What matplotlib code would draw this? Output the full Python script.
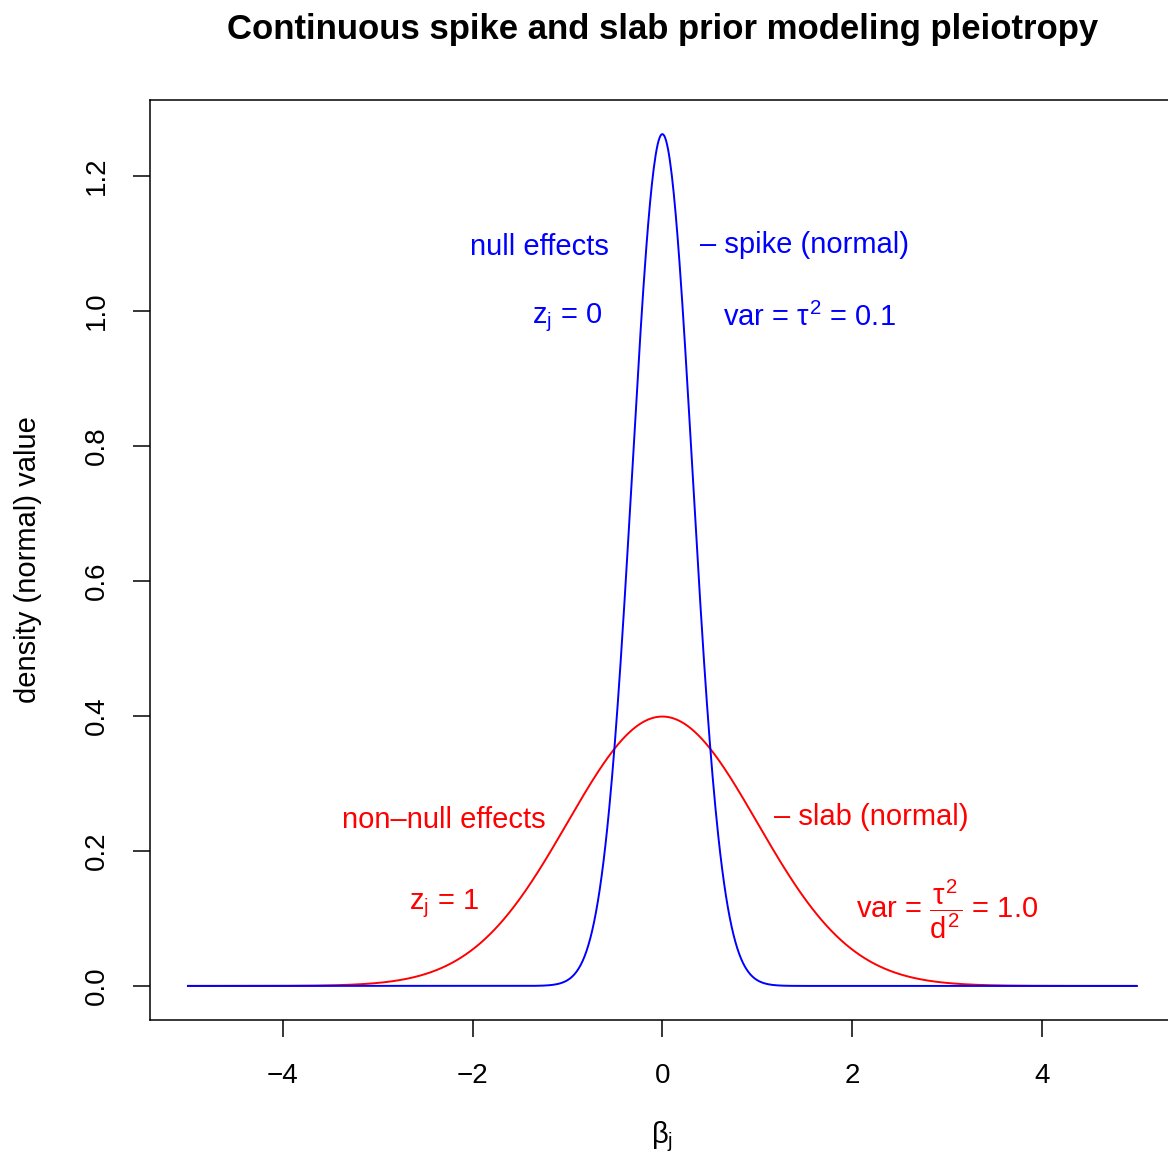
import numpy as np
import matplotlib
matplotlib.use("Agg")
import matplotlib.pyplot as plt

plt.rcParams['font.family'] = ['Liberation Sans', 'DejaVu Sans']
plt.rcParams['mathtext.fontset'] = 'custom'
plt.rcParams['mathtext.rm'] = 'Liberation Sans'
plt.rcParams['mathtext.it'] = 'Liberation Sans'
plt.rcParams['mathtext.sf'] = 'Liberation Sans'

# Distribution parameters
spike_var = 0.1
slab_var = 1.0
x_range = [-5, 5]
xticks = [-4, -2, 0, 2, 4]
yticks = [0.0, 0.2, 0.4, 0.6, 0.8, 1.0, 1.2]

x = np.linspace(x_range[0], x_range[1], 1001)


def dnorm(v, var):
    return np.exp(-v ** 2 / (2 * var)) / np.sqrt(2 * np.pi * var)


spike = dnorm(x, spike_var)
slab = dnorm(x, slab_var)

W, H = 1168, 1158
fig = plt.figure(figsize=(W / 100, H / 100), dpi=100)
ax = fig.add_axes([150 / W, 138 / H, (1174.7 - 150) / W, 920 / H])

ax.plot(x, slab, color='#FF0000', lw=1.4)
ax.plot(x, spike, color='#0000FF', lw=1.4)

ymax = spike.max()
ax.set_xlim(-5.4, 5.4)
ax.set_ylim(-0.04 * ymax, ymax * 1.04)

ax.set_xticks(xticks)
ax.set_xticklabels(['\u2212' + str(abs(t)) if t < 0 else str(t) for t in xticks])
ax.set_yticks(yticks)
ax.set_yticklabels([f'{t:.1f}' for t in yticks], rotation=90, va='center')
ax.tick_params(axis='both', length=12, width=1.1, labelsize=20, direction='out')
ax.tick_params(axis='x', pad=19)
ax.tick_params(axis='y', pad=17)
for s in ax.spines.values():
    s.set_linewidth(1.1)

ax.set_xlabel(r'$\beta_{\rm j}$', fontsize=21, labelpad=22)
ax.set_ylabel('density (normal) value', fontsize=21, labelpad=30)
fig.suptitle('Continuous spike and slab prior modeling pleiotropy',
             fontsize=25, fontweight='bold', x=663 / W, y=1 - 30 / H, va='center')

fs = 21
blue = '#0000FF'
red = '#FF0000'
ax.text(-1.3, 1.095, 'null effects', color=blue, fontsize=fs, ha='center', va='center')
ax.text(-1.0, 0.99, r'z$_{\rm j}$ = 0', color=blue, fontsize=fs, ha='center', va='center')
ax.text(1.5, 1.098, '\u2013 spike (normal)', color=blue, fontsize=fs, ha='center', va='center')
ax.text(1.55, 0.99, r'var = $\tau^2$ = 0.1', color=blue, fontsize=fs, ha='center', va='center')

ax.text(-2.3, 0.246, 'non\u2013null effects', color=red, fontsize=fs, ha='center', va='center')
ax.text(-2.3, 0.122, r'z$_{\rm j}$ = 1', color=red, fontsize=fs, ha='center', va='center')
ax.text(2.2, 0.25, '\u2013 slab (normal)', color=red, fontsize=fs, ha='center', va='center')
ax.text(3.0, 0.113, r'var = $\dfrac{\tau^2}{d^2}$ = 1.0', color=red, fontsize=fs, ha='center', va='center')

fig.savefig('out.png', dpi=100)
